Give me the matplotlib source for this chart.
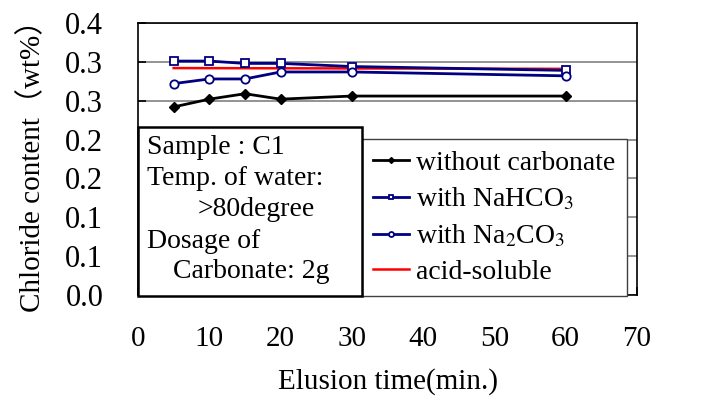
import matplotlib
matplotlib.use("Agg")
import matplotlib.pyplot as plt
from matplotlib.patches import Rectangle

plt.rcParams['font.family'] = ['Liberation Serif', 'Noto Sans CJK JP']
plt.rcParams['font.size'] = 21
plt.rcParams['mathtext.fontset'] = 'stix'

# data
time = [5, 10, 15, 20, 30, 60]
without_carbonate = [0.242, 0.252, 0.259, 0.252, 0.256, 0.256]
with_nahco3 = [0.301, 0.301, 0.298, 0.298, 0.294, 0.289]
with_na2co3 = [0.272, 0.278, 0.278, 0.287, 0.287, 0.282]
acid_time = [5, 60]
acid_soluble = [0.292, 0.291]

x_ticks = [0, 10, 20, 30, 40, 50, 60, 70]
y_ticks = [0.0, 0.05, 0.10, 0.15, 0.20, 0.25, 0.30, 0.35]
y_tick_labels = ['0.0', '0.1', '0.1', '0.2', '0.2', '0.3', '0.3', '0.4']

W, H = 709, 397
fig = plt.figure(figsize=(W / 100, H / 100), dpi=100)
ax = fig.add_axes([138 / W, 1 - 295 / H, (637 - 138) / W, (295 - 23) / H])

navy = '#000080'
ax.plot(time, without_carbonate, color='black', lw=2, marker='D', ms=5,
        label='without carbonate', zorder=5)
ax.plot(time, with_nahco3, color=navy, lw=2, marker='s', ms=6,
        mfc='white', mec=navy, mew=1.3, label='with NaHCO$_3$', zorder=4)
ax.plot(time, with_na2co3, color=navy, lw=2, marker='o', ms=6,
        mfc='white', mec=navy, mew=1.3, label='with Na$_2$CO$_3$', zorder=4)
ax.plot(acid_time, acid_soluble, color='red', lw=1.8, label='acid-soluble', zorder=3)

ax.set_xlim(0, 70)
ax.set_ylim(0, 0.35)
ax.set_xticks(x_ticks)
ax.set_yticks(y_ticks)
ax.set_yticklabels(y_tick_labels)
ax.yaxis.grid(True, color='#808080', lw=1.2)
ax.set_axisbelow(True)
ax.tick_params(direction='in', length=6, width=1.2, pad=22)
ax.tick_params(axis='y', pad=25, labelsize=22)
for s in ax.spines.values():
    s.set_linewidth(1.2)

ax.set_xlabel('Elusion time(min.)', labelpad=12)
ax.set_ylabel('Chloride content（wt%）', labelpad=14)

leg = ax.legend(loc='upper left', bbox_to_anchor=(362 / W, 1 - 139 / H),
                bbox_transform=fig.transFigure, frameon=True, fancybox=False,
                edgecolor='#404040', framealpha=1, borderaxespad=0,
                handlelength=1.3, handletextpad=0.25, labelspacing=0.37,
                markerscale=0.6, borderpad=0.4, fontsize=20)
leg.get_frame().set_linewidth(1.0)
leg.set_zorder(10)

# sample info box
box = Rectangle((138 / W, 1 - 296 / H), (362 - 138) / W, (296 - 127) / H,
                transform=fig.transFigure, facecolor='white', edgecolor='black',
                lw=1.8, zorder=11)
fig.add_artist(box)
info = [(147, 147, 'Sample : C1'), (147, 178, 'Temp. of water:'),
        (198, 210, '>80degree'), (147, 241, 'Dosage of'),
        (173, 272, 'Carbonate: 2g')]
for px, py, s in info:
    fig.text(px / W, 1 - py / H, s, ha='left', va='center', fontsize=20, zorder=12)

fig.savefig('out.png', dpi=100)
